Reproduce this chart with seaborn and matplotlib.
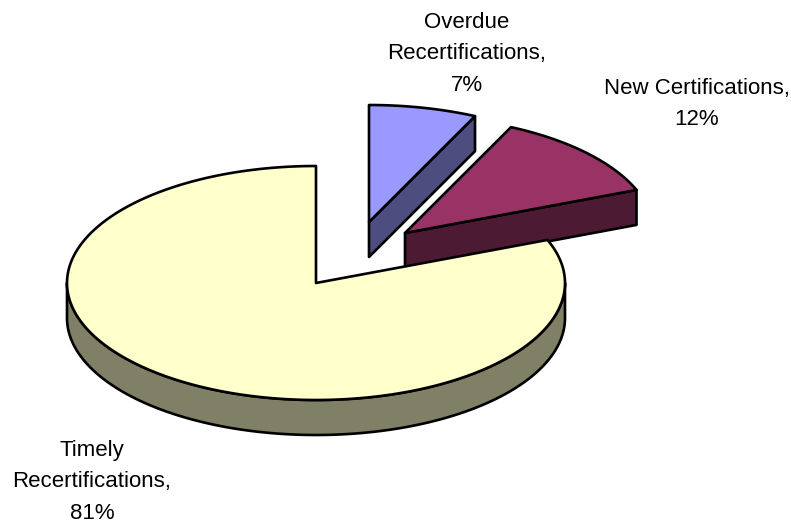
import numpy as np
import matplotlib
matplotlib.use('Agg')
import matplotlib.pyplot as plt
from matplotlib.patches import Polygon
import seaborn as sns

# slice order runs clockwise from 12 o'clock
labels = ['Overdue\nRecertifications,\n7%', 'New Certifications,\n12%', 'Timely\nRecertifications,\n81%']
shares = [7, 12, 81]
top_colors = ['#9999FF', '#993366', '#FFFFCC']
side_colors = ['#4D4D80', '#4D1A33', '#808066']

center = (316, 283)
rx, ry = 249, 117
depth = 35
shift = [(53, -61), (89, -50), (0, 0)]
label_pos = [(467, 54), (697, 104), (92, 482)]


def arc(a0, a1, cx, cy, n=200):
    t = np.radians(np.linspace(a0, a1, n))
    return np.column_stack([cx + rx * np.sin(t), cy - ry * np.cos(t)])


def draw_slice(ax, a0, a1, dx, dy, top, side):
    cx, cy = center[0] + dx, center[1] + dy
    apex = np.array([[cx, cy]])
    rim = arc(a0, a1, cx, cy)
    down = np.array([0, depth])
    lw = 1.9
    if a1 <= 180:
        # small exploded slice, the cut face toward the viewer is visible
        face = np.vstack([apex, rim[-1:], rim[-1:] + down, apex + down])
        ax.add_patch(Polygon(face, fc=side, ec='black', lw=lw, joinstyle='round'))
    else:
        # outer wall along the front half of the rim
        front = arc(max(a0, 90), min(a1, 270), cx, cy)
        wall = np.vstack([front, (front + down)[::-1]])
        ax.add_patch(Polygon(wall, fc=side, ec='black', lw=lw, joinstyle='round'))
    ax.add_patch(Polygon(np.vstack([apex, rim]), fc=top, ec='black', lw=lw, joinstyle='round'))


sns.set_theme(style='white')
plt.rcParams['font.family'] = ['Liberation Sans', 'DejaVu Sans']

fig, ax = plt.subplots(figsize=(7.91, 5.23), dpi=100)
ax.set_position([0, 0, 1, 1])
ax.set_xlim(0, 791)
ax.set_ylim(523, 0)
ax.axis('off')

edges = np.cumsum([0] + shares) / sum(shares) * 360
for i in range(len(shares)):
    draw_slice(ax, edges[i], edges[i + 1], shift[i][0], shift[i][1], top_colors[i], side_colors[i])

for text, (x, y) in zip(labels, label_pos):
    ax.text(x, y, text, ha='center', va='center', fontsize=16, linespacing=1.65, color='black')

fig.savefig('out.png', dpi=100)
